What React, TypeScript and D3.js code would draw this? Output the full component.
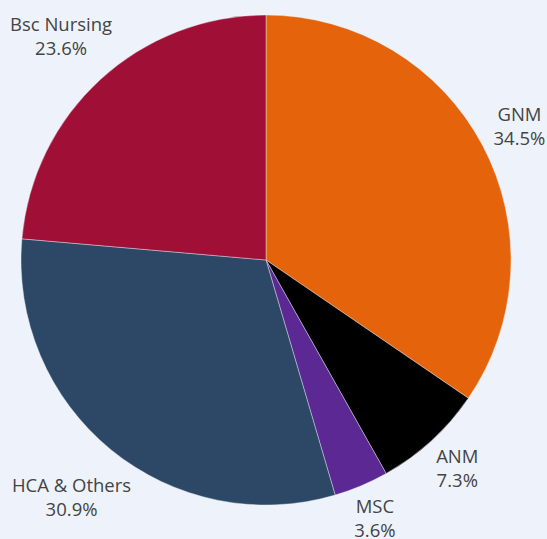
import React, { useEffect, useRef } from "react";
import { arc, pie, select, PieArcDatum } from "d3";

const WIDTH = 547;
const HEIGHT = 539;
const CENTER_X = 266;
const CENTER_Y = 260;
const RADIUS = 245;
const LABEL_GAP = 10;
const FONT_SIZE = 18.5;
const LINE_HEIGHT = 24;
const CAP_HEIGHT = 13.2;
const BACKGROUND = "#eef3fb";
const TEXT_COLOR = "#444";

const categories = ["GNM", "ANM", "MSC", "HCA & Others", "Bsc Nursing"];
const shares = [34.5, 7.3, 3.6, 30.9, 23.6];
const sliceColors = ["#e5640b", "#000000", "#5c2893", "#2d4866", "#a01036"];

type Slice = {
    name: string;
    value: number;
    color: string;
};

const slices: Slice[] = categories.map((name, i) => ({
    name,
    value: shares[i],
    color: sliceColors[i],
}));

const App = () => {
    const svgRef = useRef<SVGSVGElement>(null);

    useEffect(() => {
        const svg = select(svgRef.current);
        svg.selectAll("*").remove();

        svg.append("rect").attr("width", WIDTH).attr("height", HEIGHT).attr("fill", BACKGROUND);

        const total = shares.reduce((a, b) => a + b, 0);
        const arcs = pie<Slice>()
            .sort(null)
            .value(d => d.value)(slices);

        const arcGen = arc<PieArcDatum<Slice>>().innerRadius(0).outerRadius(RADIUS);

        const g = svg.append("g").attr("transform", `translate(${CENTER_X},${CENTER_Y})`);

        g.selectAll("path.slice")
            .data(arcs)
            .enter()
            .append("path")
            .attr("class", "slice")
            .attr("d", arcGen)
            .attr("fill", d => d.data.color)
            .attr("stroke", BACKGROUND)
            .attr("stroke-width", 0.4);

        // outside labels: block pushed out along the mid angle until it clears the rim
        arcs.forEach(d => {
            const mid = (d.startAngle + d.endAngle) / 2;
            const dx = Math.sin(mid);
            const dy = -Math.cos(mid);
            const label = g.append("g");
            const pct = `${((d.data.value / total) * 100).toFixed(1)}%`;
            const lines = [d.data.name, pct];
            const texts = lines.map((t, i) =>
                label
                    .append("text")
                    .attr("text-anchor", "middle")
                    .attr("font-family", "'Open Sans', sans-serif")
                    .attr("font-size", FONT_SIZE)
                    .attr("fill", TEXT_COLOR)
                    .attr("y", CAP_HEIGHT + i * LINE_HEIGHT)
                    .text(t),
            );
            const w = Math.max(...texts.map(t => (t.node() as SVGTextElement).getComputedTextLength()));
            const h = CAP_HEIGHT + LINE_HEIGHT;
            const support = (w / 2) * Math.abs(dx) + (h / 2) * Math.abs(dy);
            const dist = RADIUS + LABEL_GAP + support;
            const cx = dx * dist;
            const cy = dy * dist;
            label.attr("transform", `translate(${cx},${cy - h / 2})`);
        });
    }, []);

    return (
        <svg
            ref={svgRef}
            width={WIDTH}
            height={HEIGHT}
            style={{ position: "absolute", left: 0, top: 0, display: "block" }}
        />
    );
};

export default App;
